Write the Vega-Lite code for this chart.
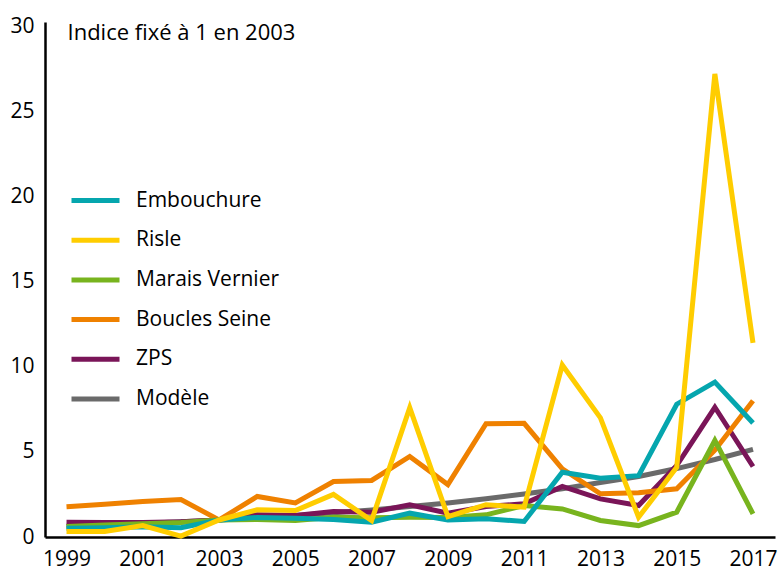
{
  "$schema": "https://vega.github.io/schema/vega-lite/v6.json",
  "width": 730,
  "height": 515,
  "autosize": {"type": "none"},
  "padding": {"left": 45, "top": 22, "right": 6, "bottom": 29},
  "config": {
    "view": {"stroke": null},
    "font": "Open Sans",
    "axis": {"grid": false, "ticks": false, "domainColor": "#000000", "domainWidth": 2.5, "labelColor": "#000000", "labelFontSize": 21, "labelFont": "Open Sans"}
  },
  "data": {"values": [
    {"annee": 1999, "serie": "Modèle", "valeur": 0.63}, {"annee": 2000, "serie": "Modèle", "valeur": 0.71}, {"annee": 2001, "serie": "Modèle", "valeur": 0.79}, {"annee": 2002, "serie": "Modèle", "valeur": 0.89}, {"annee": 2003, "serie": "Modèle", "valeur": 1}, {"annee": 2004, "serie": "Modèle", "valeur": 1.12}, {"annee": 2005, "serie": "Modèle", "valeur": 1.26}, {"annee": 2006, "serie": "Modèle", "valeur": 1.42}, {"annee": 2007, "serie": "Modèle", "valeur": 1.59}, {"annee": 2008, "serie": "Modèle", "valeur": 1.79}, {"annee": 2009, "serie": "Modèle", "valeur": 2.0}, {"annee": 2010, "serie": "Modèle", "valeur": 2.25}, {"annee": 2011, "serie": "Modèle", "valeur": 2.53}, {"annee": 2012, "serie": "Modèle", "valeur": 2.84}, {"annee": 2013, "serie": "Modèle", "valeur": 3.2}, {"annee": 2014, "serie": "Modèle", "valeur": 3.55}, {"annee": 2015, "serie": "Modèle", "valeur": 4.02}, {"annee": 2016, "serie": "Modèle", "valeur": 4.55}, {"annee": 2017, "serie": "Modèle", "valeur": 5.15},
    {"annee": 1999, "serie": "ZPS", "valeur": 0.87}, {"annee": 2000, "serie": "ZPS", "valeur": 0.85}, {"annee": 2001, "serie": "ZPS", "valeur": 0.85}, {"annee": 2002, "serie": "ZPS", "valeur": 0.9}, {"annee": 2003, "serie": "ZPS", "valeur": 1}, {"annee": 2004, "serie": "ZPS", "valeur": 1.3}, {"annee": 2005, "serie": "ZPS", "valeur": 1.26}, {"annee": 2006, "serie": "ZPS", "valeur": 1.5}, {"annee": 2007, "serie": "ZPS", "valeur": 1.45}, {"annee": 2008, "serie": "ZPS", "valeur": 1.89}, {"annee": 2009, "serie": "ZPS", "valeur": 1.4}, {"annee": 2010, "serie": "ZPS", "valeur": 1.79}, {"annee": 2011, "serie": "ZPS", "valeur": 1.95}, {"annee": 2012, "serie": "ZPS", "valeur": 2.97}, {"annee": 2013, "serie": "ZPS", "valeur": 2.24}, {"annee": 2014, "serie": "ZPS", "valeur": 1.85}, {"annee": 2015, "serie": "ZPS", "valeur": 4.2}, {"annee": 2016, "serie": "ZPS", "valeur": 7.62}, {"annee": 2017, "serie": "ZPS", "valeur": 4.14},
    {"annee": 1999, "serie": "Boucles Seine", "valeur": 1.77}, {"annee": 2000, "serie": "Boucles Seine", "valeur": 1.92}, {"annee": 2001, "serie": "Boucles Seine", "valeur": 2.08}, {"annee": 2002, "serie": "Boucles Seine", "valeur": 2.2}, {"annee": 2003, "serie": "Boucles Seine", "valeur": 1}, {"annee": 2004, "serie": "Boucles Seine", "valeur": 2.38}, {"annee": 2005, "serie": "Boucles Seine", "valeur": 2.0}, {"annee": 2006, "serie": "Boucles Seine", "valeur": 3.26}, {"annee": 2007, "serie": "Boucles Seine", "valeur": 3.32}, {"annee": 2008, "serie": "Boucles Seine", "valeur": 4.73}, {"annee": 2009, "serie": "Boucles Seine", "valeur": 3.08}, {"annee": 2010, "serie": "Boucles Seine", "valeur": 6.65}, {"annee": 2011, "serie": "Boucles Seine", "valeur": 6.68}, {"annee": 2012, "serie": "Boucles Seine", "valeur": 4.0}, {"annee": 2013, "serie": "Boucles Seine", "valeur": 2.54}, {"annee": 2014, "serie": "Boucles Seine", "valeur": 2.6}, {"annee": 2015, "serie": "Boucles Seine", "valeur": 2.83}, {"annee": 2016, "serie": "Boucles Seine", "valeur": 5.1}, {"annee": 2017, "serie": "Boucles Seine", "valeur": 8.0},
    {"annee": 1999, "serie": "Marais Vernier", "valeur": 0.62}, {"annee": 2000, "serie": "Marais Vernier", "valeur": 0.7}, {"annee": 2001, "serie": "Marais Vernier", "valeur": 0.78}, {"annee": 2002, "serie": "Marais Vernier", "valeur": 0.85}, {"annee": 2003, "serie": "Marais Vernier", "valeur": 1}, {"annee": 2004, "serie": "Marais Vernier", "valeur": 1.03}, {"annee": 2005, "serie": "Marais Vernier", "valeur": 0.97}, {"annee": 2006, "serie": "Marais Vernier", "valeur": 1.16}, {"annee": 2007, "serie": "Marais Vernier", "valeur": 1.13}, {"annee": 2008, "serie": "Marais Vernier", "valeur": 1.16}, {"annee": 2009, "serie": "Marais Vernier", "valeur": 1.15}, {"annee": 2010, "serie": "Marais Vernier", "valeur": 1.3}, {"annee": 2011, "serie": "Marais Vernier", "valeur": 1.85}, {"annee": 2012, "serie": "Marais Vernier", "valeur": 1.65}, {"annee": 2013, "serie": "Marais Vernier", "valeur": 0.97}, {"annee": 2014, "serie": "Marais Vernier", "valeur": 0.67}, {"annee": 2015, "serie": "Marais Vernier", "valeur": 1.46}, {"annee": 2016, "serie": "Marais Vernier", "valeur": 5.67}, {"annee": 2017, "serie": "Marais Vernier", "valeur": 1.36},
    {"annee": 1999, "serie": "Embouchure", "valeur": 0.52}, {"annee": 2000, "serie": "Embouchure", "valeur": 0.55}, {"annee": 2001, "serie": "Embouchure", "valeur": 0.6}, {"annee": 2002, "serie": "Embouchure", "valeur": 0.55}, {"annee": 2003, "serie": "Embouchure", "valeur": 1}, {"annee": 2004, "serie": "Embouchure", "valeur": 1.15}, {"annee": 2005, "serie": "Embouchure", "valeur": 1.1}, {"annee": 2006, "serie": "Embouchure", "valeur": 1.03}, {"annee": 2007, "serie": "Embouchure", "valeur": 0.87}, {"annee": 2008, "serie": "Embouchure", "valeur": 1.4}, {"annee": 2009, "serie": "Embouchure", "valeur": 1.0}, {"annee": 2010, "serie": "Embouchure", "valeur": 1.07}, {"annee": 2011, "serie": "Embouchure", "valeur": 0.91}, {"annee": 2012, "serie": "Embouchure", "valeur": 3.8}, {"annee": 2013, "serie": "Embouchure", "valeur": 3.45}, {"annee": 2014, "serie": "Embouchure", "valeur": 3.6}, {"annee": 2015, "serie": "Embouchure", "valeur": 7.8}, {"annee": 2016, "serie": "Embouchure", "valeur": 9.1}, {"annee": 2017, "serie": "Embouchure", "valeur": 6.7},
    {"annee": 1999, "serie": "Risle", "valeur": 0.32}, {"annee": 2000, "serie": "Risle", "valeur": 0.32}, {"annee": 2001, "serie": "Risle", "valeur": 0.67}, {"annee": 2002, "serie": "Risle", "valeur": 0.05}, {"annee": 2003, "serie": "Risle", "valeur": 1}, {"annee": 2004, "serie": "Risle", "valeur": 1.6}, {"annee": 2005, "serie": "Risle", "valeur": 1.55}, {"annee": 2006, "serie": "Risle", "valeur": 2.5}, {"annee": 2007, "serie": "Risle", "valeur": 0.97}, {"annee": 2008, "serie": "Risle", "valeur": 7.6}, {"annee": 2009, "serie": "Risle", "valeur": 1.2}, {"annee": 2010, "serie": "Risle", "valeur": 1.9}, {"annee": 2011, "serie": "Risle", "valeur": 1.75}, {"annee": 2012, "serie": "Risle", "valeur": 10.1}, {"annee": 2013, "serie": "Risle", "valeur": 7.0}, {"annee": 2014, "serie": "Risle", "valeur": 1.16}, {"annee": 2015, "serie": "Risle", "valeur": 4.1}, {"annee": 2016, "serie": "Risle", "valeur": 27.2}, {"annee": 2017, "serie": "Risle", "valeur": 11.4}
  ]},
  "encoding": {
    "x": {"field": "annee", "type": "quantitative", "scale": {"domain": [1998.436, 2017.577], "nice": false, "zero": false},
      "axis": {"title": null, "values": [1999, 2001, 2003, 2005, 2007, 2009, 2011, 2013, 2015, 2017], "format": "d", "labelPadding": 11, "labelBaseline": "top", "labelFlush": false}},
    "y": {"field": "valeur", "type": "quantitative", "scale": {"domain": [0, 30.25], "nice": false},
      "axis": {"title": "Indice fixé à 1 en 2003", "titleAngle": 0, "titleX": 22, "titleY": 10, "titleAlign": "left", "titleBaseline": "middle", "titleFontSize": 22, "titleFontWeight": "normal", "titleFont": "Open Sans", "titleColor": "#000000", "values": [0, 5, 10, 15, 20, 25, 30], "labelPadding": 11, "labelFlush": false}},
    "color": {"field": "serie", "type": "nominal",
      "scale": {"domain": ["Embouchure", "Risle", "Marais Vernier", "Boucles Seine", "ZPS", "Modèle"], "range": ["#05a6ae", "#ffcd00", "#78b41e", "#ef8100", "#7a1558", "#6a6a6a"]},
      "legend": {"title": null, "orient": "none", "legendX": 36, "legendY": 164, "symbolType": "M-2,0H2", "symbolSize": 576, "symbolStrokeWidth": 5, "labelFontSize": 21, "labelFont": "Open Sans", "labelColor": "#000000", "labelOffset": 26, "rowPadding": 14.7}}
  },
  "layer": [
    {"transform": [{"filter": "datum.serie === 'Modèle'"}], "mark": {"type": "line", "strokeWidth": 5, "strokeJoin": "miter", "strokeCap": "butt"}},
    {"transform": [{"filter": "datum.serie === 'ZPS'"}], "mark": {"type": "line", "strokeWidth": 5, "strokeJoin": "miter", "strokeCap": "butt"}},
    {"transform": [{"filter": "datum.serie === 'Boucles Seine'"}], "mark": {"type": "line", "strokeWidth": 5, "strokeJoin": "miter", "strokeCap": "butt"}},
    {"transform": [{"filter": "datum.serie === 'Marais Vernier'"}], "mark": {"type": "line", "strokeWidth": 5, "strokeJoin": "miter", "strokeCap": "butt"}},
    {"transform": [{"filter": "datum.serie === 'Embouchure'"}], "mark": {"type": "line", "strokeWidth": 5, "strokeJoin": "miter", "strokeCap": "butt"}},
    {"transform": [{"filter": "datum.serie === 'Risle'"}], "mark": {"type": "line", "strokeWidth": 5, "strokeJoin": "miter", "strokeCap": "butt"}}
  ]
}
